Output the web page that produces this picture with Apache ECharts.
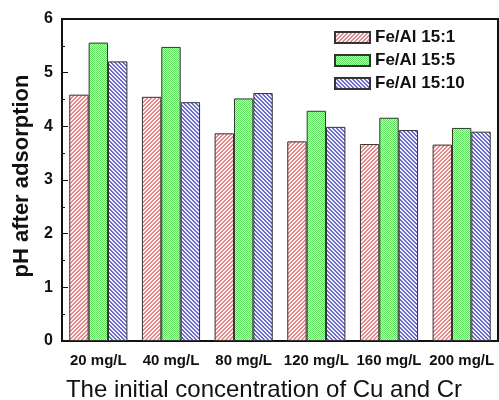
<!DOCTYPE html>
<html>
<head>
<meta charset="utf-8">
<script src="https://cdn.jsdelivr.net/npm/echarts@6/dist/echarts.min.js"></script>
<style>
html,body{margin:0;padding:0;background:#fff;}
#main{width:499px;height:400px;}
</style>
</head>
<body>
<div id="main"></div>
<script>
var categories = ['20 mg/L', '40 mg/L', '80 mg/L', '120 mg/L', '160 mg/L', '200 mg/L'];
var seriesNames = ['Fe/Al 15:1', 'Fe/Al 15:5', 'Fe/Al 15:10'];
var ratio1 = [4.59, 4.55, 3.87, 3.72, 3.67, 3.66];
var ratio5 = [5.56, 5.48, 4.52, 4.29, 4.16, 3.97];
var ratio10 = [5.21, 4.45, 4.62, 3.99, 3.93, 3.90];
var yTicks = [0, 1, 2, 3, 4, 5, 6];

// small tiled patterns like the origin hatch fills
function makePattern(kind) {
    var c = document.createElement('canvas');
    c.width = 4; c.height = 4;
    var ctx = c.getContext('2d');
    for (var x = 0; x < 4; x++) {
        for (var y = 0; y < 4; y++) {
            var col;
            if (kind == 'red') {
                col = ((x + y) % 4 < 2) ? '#e48a8a' : '#fdf0f0';
            } else if (kind == 'blue') {
                col = ((x - y + 8) % 4 < 2) ? '#6a6acc' : '#f2f2fc';
            } else {
                col = ((x + y) % 2 == 0) ? '#5fe05f' : '#c6f8c6';
            }
            ctx.fillStyle = col;
            ctx.fillRect(x, y, 1, 1);
        }
    }
    return {image: c, repeat: 'repeat'};
}

var fills = [makePattern('red'), makePattern('green'), makePattern('blue')];
var values = [ratio1, ratio5, ratio10];

var myChart = echarts.init(document.getElementById('main'));

var series = [];
for (var i = 0; i < 3; i++) {
    series.push({
        name: seriesNames[i],
        type: 'bar',
        data: values[i],
        barGap: '0%',
        barCategoryGap: '20%',
        itemStyle: {
            color: fills[i],
            borderColor: '#333',
            borderWidth: 1
        }
    });
}

var option = {
    animation: false,
    backgroundColor: '#fff',
    grid: {
        left: 62,
        right: 1,
        top: 19,
        bottom: 59,
        outerBoundsMode: 'none',
        containLabel: false,
        show: true,
        borderColor: '#111',
        borderWidth: 2
    },
    legend: {
        orient: 'vertical',
        left: 334,
        top: 29,
        padding: 0,
        icon: 'rect',
        itemWidth: 35,
        itemHeight: 11,
        itemGap: 6,
        data: seriesNames,
        textStyle: {
            fontFamily: 'Liberation Sans, Arial',
            fontWeight: 'bold',
            fontSize: 17,
            color: '#111'
        }
    },
    xAxis: [
        {
            type: 'category',
            data: categories,
            name: 'The initial concentration of Cu and Cr',
            nameLocation: 'middle',
            nameGap: 37,
            nameTextStyle: {
                fontFamily: 'Liberation Sans, Arial',
                fontSize: 24,
                color: '#111',
                padding: [0, 32, 0, 0]
            },
            axisLine: {lineStyle: {color: '#111', width: 2}},
            axisTick: {inside: true, length: 4, lineStyle: {color: '#111'}},
            axisLabel: {
                interval: 0,
                margin: 12,
                fontFamily: 'Liberation Sans, Arial',
                fontWeight: 'bold',
                fontSize: 15,
                color: '#111'
            }
        },
        {
            type: 'category',
            data: categories,
            position: 'bottom',
            axisLine: {show: false},
            axisTick: {inside: true, alignWithLabel: true, length: 7, lineStyle: {color: '#111'}},
            axisLabel: {show: false}
        }
    ],
    yAxis: {
        type: 'value',
        min: yTicks[0],
        max: yTicks[yTicks.length - 1],
        interval: 1,
        name: 'pH after adsorption',
        nameLocation: 'middle',
        nameGap: 28,
        nameTextStyle: {
            fontFamily: 'Liberation Sans, Arial',
            fontWeight: 'bold',
            fontSize: 22,
            color: '#111',
            padding: [0, 0, 0, 8]
        },
        splitLine: {show: false},
        axisLine: {show: true, lineStyle: {color: '#111', width: 2}},
        axisTick: {show: true, inside: true, length: 6, lineStyle: {color: '#111'}},
        minorTick: {show: true, splitNumber: 2, length: 3, lineStyle: {color: '#111'}},
        axisLabel: {
            margin: 9,
            fontFamily: 'Liberation Sans, Arial',
            fontWeight: 'bold',
            fontSize: 16,
            color: '#111'
        }
    },
    series: series
};

myChart.setOption(option);
</script>
</body>
</html>
